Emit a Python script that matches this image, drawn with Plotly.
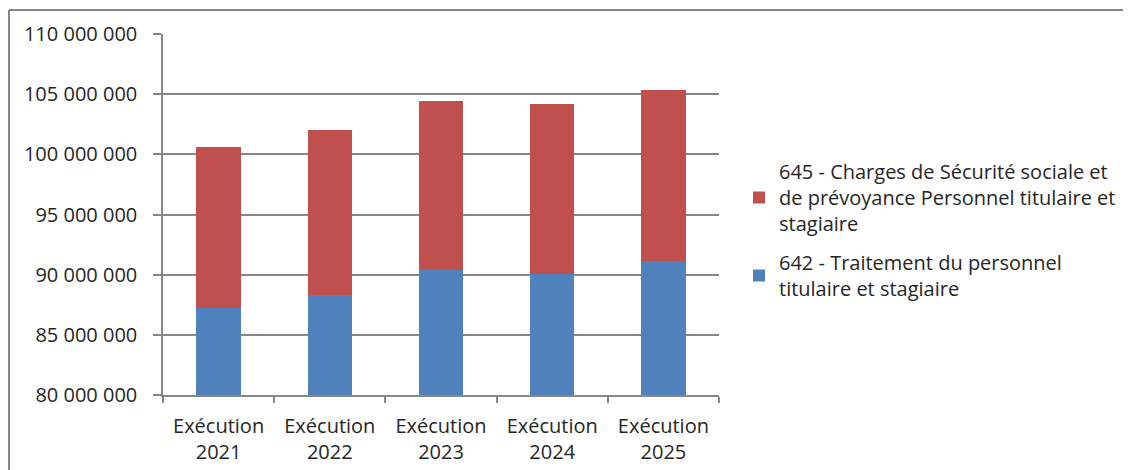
import plotly.graph_objects as go

categories = ["Exécution<br>2021", "Exécution<br>2022", "Exécution<br>2023", "Exécution<br>2024", "Exécution<br>2025"]
traitement_642 = [87_260_000, 88_310_000, 90_380_000, 90_050_000, 91_130_000]
charges_645 = [13_340_000, 13_730_000, 14_060_000, 14_120_000, 14_200_000]
name_642 = "642 - Traitement du personnel<br>titulaire et stagiaire"
name_645 = "645 - Charges de Sécurité sociale et<br>de prévoyance Personnel titulaire et<br>stagiaire"
y_ticks = [80_000_000, 85_000_000, 90_000_000, 95_000_000, 100_000_000, 105_000_000, 110_000_000]

FONT = "Open Sans"
GRID = "#878787"
TXT = "#262626"

# page offset of the plot div (body margin)
OFF = 8
W, H = 1131 - OFF, 470 - OFF
# plot area in page pixels
L, R, T, B = 163, 719, 34, 395
Lf, Rf, Tf, Bf = L - OFF, R - OFF, T - OFF, B - OFF
pw, ph = R - L, B - T

def px_to_paper(xp, yp):
    # page pixel -> paper coordinates
    return (xp - L) / pw, (B - yp) / ph

fig = go.Figure()
fig.add_trace(go.Bar(x=categories, y=traitement_642, name=name_642, legendgroup="g642", legendrank=2,
                     marker=dict(color="#4F81BD", line=dict(width=0))))
fig.add_trace(go.Bar(x=categories, y=charges_645, name=name_645, legendgroup="g645", legendrank=1,
                     marker=dict(color="#C0504D", line=dict(width=0))))

fx0, fy0 = px_to_paper(9, 10)
fx1, fy1 = px_to_paper(1140, 480)
frame = dict(color=GRID, width=2)

fig.update_layout(
    width=W, height=H,
    margin=dict(l=Lf, r=W - Rf, t=Tf, b=H - Bf, pad=0, autoexpand=False),
    barmode="stack",
    bargap=0.6,
    separators=", ",
    plot_bgcolor="white",
    paper_bgcolor="white",
    font=dict(family=FONT, size=20, color=TXT),
    modebar=dict(bgcolor="rgba(0,0,0,0)", color="rgba(0,0,0,0)", activecolor="rgba(0,0,0,0)"),
    showlegend=True,
    legend=dict(
        traceorder="grouped",
        x=px_to_paper(739, 0)[0], y=px_to_paper(0, 230)[1], xanchor="left", yanchor="middle",
        font=dict(family=FONT, size=20, color=TXT),
        tracegroupgap=10,
        bgcolor="rgba(0,0,0,0)",
    ),
    xaxis=dict(
        automargin=False,
        showline=True, linecolor=GRID, linewidth=1.5,
        ticks="outside", tickson="boundaries", ticklen=6, tickcolor=GRID, tickwidth=1.5,
        ticklabelstandoff=12,
        showgrid=False,
        tickfont=dict(family=FONT, size=20, color=TXT),
    ),
    yaxis=dict(
        automargin=False,
        range=[80_000_000, 110_000_000],
        tickvals=y_ticks,
        tickformat=",d",
        showline=True, linecolor=GRID, linewidth=1.5,
        ticks="outside", ticklen=8, tickcolor=GRID, tickwidth=1.5,
        ticklabelstandoff=12,
        showgrid=True, gridcolor=GRID, gridwidth=1.5,
        zeroline=False,
        tickfont=dict(family=FONT, size=20, color=TXT),
    ),
    shapes=[
        dict(type="line", xref="paper", yref="paper", x0=fx0, y0=fy0, x1=fx1, y1=fy0, line=frame, layer="above"),
        dict(type="line", xref="paper", yref="paper", x0=fx0, y0=fy0, x1=fx0, y1=fy1, line=frame, layer="above"),
    ],
)

fig.write_html("out.html")
